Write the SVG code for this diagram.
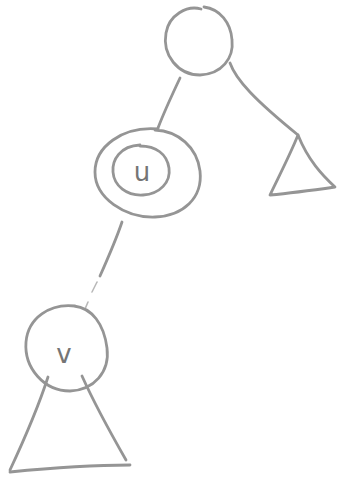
<svg xmlns="http://www.w3.org/2000/svg" width="338" height="479" viewBox="0 0 338 479">
<style>
.s{fill:none;stroke:#959595;stroke-width:2.8;stroke-linecap:round;stroke-linejoin:round}
.f{fill:none;stroke:#b8b8b8;stroke-width:1.6;stroke-linecap:round}
.t{font-family:"DejaVu Sans",sans-serif;font-size:26px;fill:#757575;text-anchor:middle}
</style>
<rect width="338" height="479" fill="#fff"/>
<g id="connectors">
<path class="s" d="M180,78 C172,95 164,112 158,128"/>
<path class="s" d="M230,63 C236,80 255,100 298,135"/>
<path class="s" d="M122,222 C116,240 108,258 100,276"/>
<path class="f" d="M97,282 L92,292"/>
<path class="f" d="M88,302 L85,309"/>
</g>
<g id="root">
<path class="s" d="M201,9 C187,5 169,15 166,33 C162,55 178,75 200,75 C222,74 234,58 232,40 C231,23 220,9 204,7"/>
</g>
<g id="right-subtree">
<path class="s" d="M298,135 C290,155 278,178 270,195 C292,193 314,190 335,187 C322,175 308,160 298,135"/>
</g>
<g id="u">
<path class="s" d="M158,129 C122,126 95,147 95,172 C95,198 125,218 155,217 C183,216 203,198 200,171 C197,147 178,131 155,130"/>
<path class="s" d="M140,145 C120,146 112,160 113,172 C114,186 127,196 143,195 C160,194 171,182 169,168 C167,154 156,146 140,146"/>
<text class="t" x="142" y="181">u</text>
</g>
<g id="v">
<path class="s" d="M75,306 C50,303 28,318 26,342 C24,368 44,391 70,391 C94,390 110,372 107,348 C104,324 92,308 74,306"/>
<text class="t" x="64" y="363">v</text>
</g>
<g id="left-subtree">
<path class="s" d="M48,377 C38,408 24,440 10,470"/>
<path class="s" d="M82,376 C95,405 110,432 126,460"/>
<path class="s" d="M10,472 C50,468 92,465 130,465"/>
</g>
</svg>
